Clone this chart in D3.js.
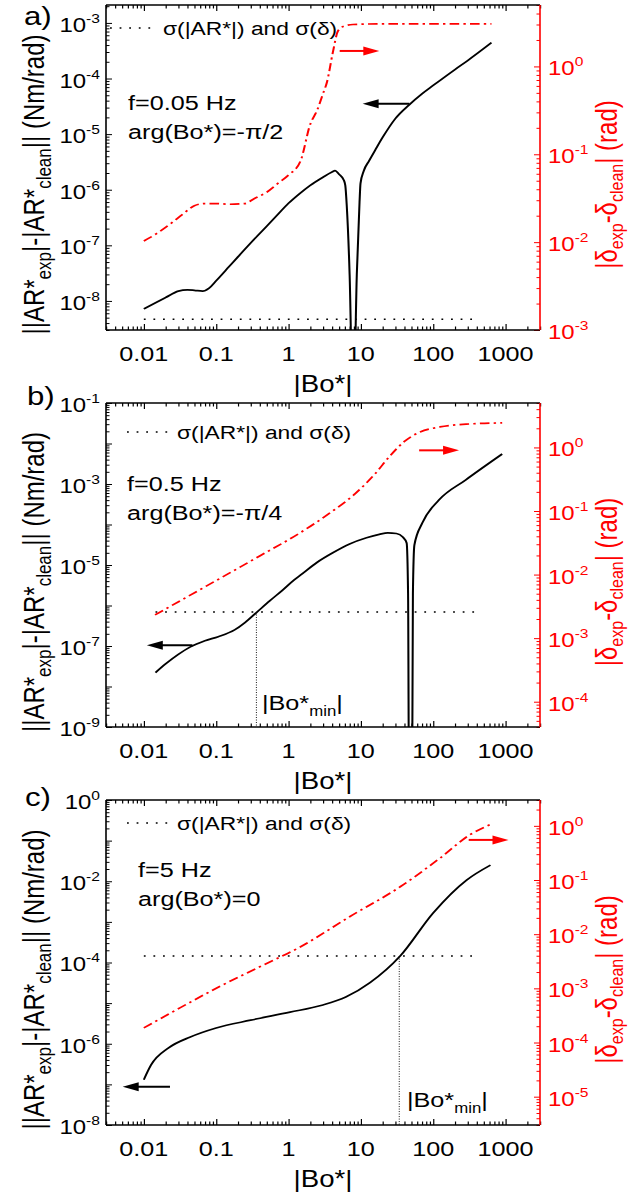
<!DOCTYPE html>
<html>
<head>
<meta charset="utf-8">
<script src="https://cdn.jsdelivr.net/npm/d3@7/dist/d3.min.js"></script>
<style>
  body { margin: 0; background: #fff; }
  svg { display: block; }
  text { font-family: "Liberation Sans", Arial, sans-serif; }
</style>
</head>
<body>
<div id="chart"></div>
<script>
// ---- data ----
const boDomain = [0.003, 3000];
const boTicks = [0.01, 0.1, 1, 10, 100, 1000];

// a) f = 0.05 Hz, arg(Bo*) = -pi/2
const aAmpBo = [0.01, 0.015, 0.02, 0.03, 0.04, 0.05, 0.065, 0.08, 0.1, 0.15, 0.2, 0.3, 0.5, 0.7, 1, 1.5, 2, 3, 4, 4.4, 5, 5.8, 6.1, 6.4, 7.0, 7.8, 7.9, 8.8, 9.6, 9.9, 11, 13, 16, 20, 30, 47, 70, 100, 200, 300, 640];
const aAmp = [7.2e-9, 9.5e-9, 1.15e-8, 1.5e-8, 1.58e-8, 1.55e-8, 1.5e-8, 1.7e-8, 2.3e-8, 4.1e-8, 6.2e-8, 1.1e-7, 2.2e-7, 3.5e-7, 5.7e-7, 9.0e-7, 1.2e-6, 1.68e-6, 2.08e-6, 2.2e-6, 1.9e-6, 1.5e-6, 1.2e-6, 5e-7, 3e-8, 1e-10, 1e-10, 3e-8, 6e-7, 1.3e-6, 2.2e-6, 3.3e-6, 5.3e-6, 8.7e-6, 1.9e-5, 3.4e-5, 5.3e-5, 7.5e-5, 1.45e-4, 2.1e-4, 4.4e-4];
const aPhaseBo = [0.01, 0.015, 0.023, 0.035, 0.05, 0.07, 0.1, 0.15, 0.25, 0.33, 0.5, 0.7, 1.0, 1.46, 2.0, 2.5, 3.0, 3.4, 4.1, 4.8, 5.7, 7.8, 20, 100, 640];
const aPhase = [0.0103, 0.0125, 0.016, 0.021, 0.026, 0.0275, 0.0275, 0.027, 0.0275, 0.031, 0.037, 0.046, 0.058, 0.083, 0.22, 0.32, 0.49, 0.66, 1.44, 2.5, 2.85, 3.0, 3.05, 3.05, 3.05];
const aSigma = 4.7e-9;
const aSigmaBo = [0.01, 440];
const aAmpExp = [-8, -7, -6, -5, -4, -3];
const aPhaseExp = [-3, -2, -1, 0];
const aText = ["f=0.05 Hz", "arg(Bo*)=-\u03c0/2"];

// b) f = 0.5 Hz, arg(Bo*) = -pi/4
const bAmpBo = [0.0145, 0.02, 0.03, 0.044, 0.07, 0.107, 0.18, 0.25, 0.36, 0.55, 0.83, 1.2, 1.46, 2.5, 4.1, 7, 12, 18, 23.6, 31, 38, 43, 45, 46.5, 51, 52.5, 55, 71, 120, 280, 900];
const bAmp = [2.2e-8, 3.6e-8, 6.2e-8, 9.5e-8, 1.35e-7, 1.7e-7, 2.5e-7, 3.8e-7, 6.7e-7, 1.3e-6, 2.4e-6, 4.3e-6, 5.6e-6, 1.17e-5, 2.0e-5, 3.3e-5, 4.7e-5, 5.7e-5, 6.2e-5, 6.0e-5, 4.9e-5, 3.5e-5, 2e-6, 1e-11, 1e-11, 2e-6, 3.1e-5, 1.1e-4, 4e-4, 1.25e-3, 5.5e-3];
const bPhaseBo = [0.0143, 0.103, 0.4, 1.44, 3.75, 8.3, 15.7, 25.3, 41, 66, 124, 320, 900];
const bPhase = [2.32e-3, 8.2e-3, 0.0196, 0.0452, 0.0933, 0.186, 0.383, 0.735, 1.27, 1.75, 2.10, 2.34, 2.43];
const bSigma = 6.9e-7;
const bSigmaBo = [0.0145, 440];
const bBoMin = 0.36;
const bAmpExp = [-9, -7, -5, -3, -1];
const bPhaseExp = [-4, -3, -2, -1, 0];
const bText = ["f=0.5 Hz", "arg(Bo*)=-\u03c0/4"];

// c) f = 5 Hz, arg(Bo*) = 0
const cAmpBo = [0.01, 0.0126, 0.022, 0.044, 0.1, 0.3, 1.05, 2.9, 6.2, 13.4, 35, 100, 290, 620];
const cAmp = [1.3e-7, 3.0e-7, 7.9e-7, 1.47e-6, 2.45e-6, 3.8e-6, 6.0e-6, 8.9e-6, 1.41e-5, 3.2e-5, 1.45e-4, 1.66e-3, 1.07e-2, 2.5e-2];
const cPhaseBo = [0.01, 0.032, 0.11, 0.4, 1.45, 7, 35, 125, 320, 620];
const cPhase = [1.86e-4, 4.4e-4, 1.07e-3, 2.5e-3, 5.8e-3, 2.1e-2, 7.5e-2, 0.255, 0.68, 1.06];
const cSigma = 1.44e-4;
const cSigmaBo = [0.01, 440];
const cBoMin = 34;
const cAmpExp = [-8, -6, -4, -2, 0];
const cPhaseExp = [-5, -4, -3, -2, -1, 0];
const cText = ["f=5 Hz", "arg(Bo*)=0"];

// arrows: [Bo from, Bo to, value, which axis]
const aArrows = [[5.1, 18, 1.5, "phase"], [47, 10.6, 3.5e-5, "amp"]];
const bArrows = [[64, 228, 0.9, "phase"], [0.047, 0.011, 1.05e-7, "amp"]];
const cArrows = [[310, 1100, 0.55, "phase"], [0.023, 0.0051, 8.7e-8, "amp"]];

// ---- layout ----
// the original figure is stretched sideways, so draw in a narrower space and stretch it
const S = 1.2;
const W = 631 / S, H = 1198;
const hx = v => v / S;
const RED = "#ff0000";
const plotLeft = 106, plotRight = 540;

const panels = [
  { tag: "a)", tagX: 24, tagY: 25, top: 5, bottom: 330,
    ampDomain: [3e-9, 2.1e-3], phaseDomain: [1e-3, 5],
    ampBo: aAmpBo, amp: aAmp, phaseBo: aPhaseBo, phase: aPhase,
    sigma: aSigma, sigmaBo: aSigmaBo, boMin: null,
    ampExp: aAmpExp, phaseExp: aPhaseExp, text: aText, textX: 128, textY: 110,
    legend: [110, 155, 163, 28], arrows: aArrows, minLabel: null },
  { tag: "b)", tagX: 27, tagY: 405, top: 403, bottom: 727,
    ampDomain: [1e-9, 1e-1], phaseDomain: [4e-5, 5],
    ampBo: bAmpBo, amp: bAmp, phaseBo: bPhaseBo, phase: bPhase,
    sigma: bSigma, sigmaBo: bSigmaBo, boMin: bBoMin,
    ampExp: bAmpExp, phaseExp: bPhaseExp, text: bText, textX: 127, textY: 491,
    legend: [127, 170, 177, 432], arrows: bArrows, minLabel: [262, 710] },
  { tag: "c)", tagX: 25, tagY: 806, top: 800, bottom: 1125,
    ampDomain: [1e-8, 1], phaseDomain: [3e-6, 3],
    ampBo: cAmpBo, amp: cAmp, phaseBo: cPhaseBo, phase: cPhase,
    sigma: cSigma, sigmaBo: cSigmaBo, boMin: cBoMin,
    ampExp: cAmpExp, phaseExp: cPhaseExp, text: cText, textX: 138, textY: 877,
    legend: [127, 170, 177, 823], arrows: cArrows, minLabel: [407, 1107] }
];

const svg = d3.select("#chart").append("svg")
  .attr("width", 631).attr("height", H)
  .attr("viewBox", `0 0 ${W} ${H}`)
  .attr("preserveAspectRatio", "none");

const x = d3.scaleLog().domain(boDomain).range([hx(plotLeft), hx(plotRight)]);

function decadeTicks(domain) {
  const major = [], minor = [];
  const lo = Math.floor(Math.log10(domain[0])), hi = Math.ceil(Math.log10(domain[1]));
  for (let e = lo; e <= hi; e++) {
    for (let m = 1; m < 10; m++) {
      const v = m * Math.pow(10, e);
      if (v < domain[0] * 0.999 || v > domain[1] * 1.001) continue;
      (m === 1 ? major : minor).push(v);
    }
  }
  return { major, minor };
}

function addTicks(g, axis, ticks, color, transform, majorLen, minorLen) {
  [[ticks.major, majorLen], [ticks.minor, minorLen]].forEach(([vals, len]) => {
    const a = g.append("g").attr("transform", transform)
      .call(axis.tickValues(vals).tickSize(-len).tickFormat(""));
    a.select(".domain").remove();
    a.selectAll(".tick line").attr("stroke", color).attr("stroke-width", 1);
  });
}

function powerLabel(g, xPos, yPos, e, anchor, color) {
  const t = g.append("text")
    .attr("x", xPos).attr("y", yPos)
    .attr("text-anchor", anchor)
    .attr("fill", color)
    .attr("font-size", 20);
  t.append("tspan").text("10");
  t.append("tspan").attr("dy", -9).attr("font-size", 13).text(e);
}

function drawPanel(p, i) {
  const g = svg.append("g");
  const yAmp = d3.scaleLog().domain(p.ampDomain).range([p.bottom, p.top]);
  const yPh = d3.scaleLog().domain(p.phaseDomain).range([p.bottom, p.top]);
  const clipId = "clip" + i;

  g.append("clipPath").attr("id", clipId).append("rect")
    .attr("x", hx(plotLeft)).attr("y", p.top)
    .attr("width", hx(plotRight - plotLeft)).attr("height", p.bottom - p.top);

  // ticks, all pointing inside the frame
  const tx = decadeTicks(boDomain);
  addTicks(g, d3.axisBottom(x), tx, "#000", `translate(0,${p.bottom})`, 6, 3.5);
  addTicks(g, d3.axisTop(x), tx, "#000", `translate(0,${p.top})`, 6, 3.5);
  addTicks(g, d3.axisLeft(yAmp), decadeTicks(p.ampDomain), "#000", `translate(${hx(plotLeft)},0)`, hx(6), hx(3.5));
  addTicks(g, d3.axisRight(yPh), decadeTicks(p.phaseDomain), RED, `translate(${hx(plotRight)},0)`, hx(6), hx(3.5));

  // frame
  g.append("line").attr("x1", hx(plotLeft)).attr("x2", hx(plotRight))
    .attr("y1", p.top).attr("y2", p.top).attr("stroke", "#000").attr("stroke-width", 1.5);
  g.append("line").attr("x1", hx(plotLeft)).attr("x2", hx(plotRight))
    .attr("y1", p.bottom).attr("y2", p.bottom).attr("stroke", "#000").attr("stroke-width", 1.5);
  g.append("line").attr("x1", hx(plotLeft)).attr("x2", hx(plotLeft))
    .attr("y1", p.top).attr("y2", p.bottom).attr("stroke", "#000").attr("stroke-width", 1.6 / S);
  g.append("line").attr("x1", hx(plotRight)).attr("x2", hx(plotRight))
    .attr("y1", p.top).attr("y2", p.bottom).attr("stroke", RED).attr("stroke-width", 1.6 / S);

  // tick labels
  boTicks.forEach(v => {
    g.append("text").attr("x", x(v)).attr("y", p.bottom + 31)
      .attr("text-anchor", "middle").attr("font-size", 21).text(v);
  });
  p.ampExp.forEach(e => powerLabel(g, hx(100), yAmp(Math.pow(10, e)) + 9, e, "end", "#000"));
  p.phaseExp.forEach(e => powerLabel(g, hx(548), yPh(Math.pow(10, e)) + 9, e, "start", RED));

  // axis titles
  g.append("text").attr("x", hx(323)).attr("y", p.bottom + 62)
    .attr("text-anchor", "middle").attr("font-size", 23).text("|Bo*|");

  const cy = (p.top + p.bottom) / 2 + 17;
  const lt = g.append("text").attr("transform", `translate(${hx(44)},${cy}) rotate(-90)`)
    .attr("text-anchor", "middle").attr("font-size", 24);
  lt.append("tspan").text("||AR*");
  lt.append("tspan").attr("dy", 6).attr("font-size", 17).text("exp");
  lt.append("tspan").attr("dy", -6).text("|-|AR*");
  lt.append("tspan").attr("dy", 6).attr("font-size", 17).text("clean");
  lt.append("tspan").attr("dy", -6).text("|| (Nm/rad)");

  const rt = g.append("text").attr("transform", `translate(${hx(617)},${cy}) rotate(-90)`)
    .attr("text-anchor", "middle").attr("font-size", 24).attr("fill", RED);
  rt.append("tspan").text("|\u03b4");
  rt.append("tspan").attr("dy", 5).attr("font-size", 16).text("exp");
  rt.append("tspan").attr("dy", -5).text("-\u03b4");
  rt.append("tspan").attr("dy", 5).attr("font-size", 16).text("clean");
  rt.append("tspan").attr("dy", -5).text("| (rad)");

  g.append("text").attr("x", hx(p.tagX)).attr("y", p.tagY)
    .attr("font-size", 26).text(p.tag);

  // legend entry
  const [lx0, lx1, ltx, ly] = p.legend;
  g.append("line").attr("x1", hx(lx0)).attr("x2", hx(lx1)).attr("y1", ly).attr("y2", ly)
    .attr("stroke", "#000").attr("stroke-width", 1.5).attr("stroke-dasharray", "1.5,6.5");
  g.append("text").attr("x", hx(ltx)).attr("y", ly + 7)
    .attr("font-size", 19).text("\u03c3(|AR*|) and \u03c3(\u03b4)");

  // f and arg(Bo*)
  p.text.forEach((s, k) => {
    g.append("text").attr("x", hx(p.textX)).attr("y", p.textY + k * 29)
      .attr("font-size", 21).text(s);
  });

  const plot = g.append("g").attr("clip-path", `url(#${clipId})`);

  // sigma level
  plot.append("path")
    .attr("d", d3.line()(p.sigmaBo.map(b => [x(b), yAmp(p.sigma)])))
    .attr("stroke", "#000").attr("stroke-width", 1.5).attr("fill", "none")
    .attr("stroke-dasharray", "1.5,6.5");

  if (p.boMin) {
    plot.append("line")
      .attr("x1", x(p.boMin)).attr("x2", x(p.boMin))
      .attr("y1", yAmp(p.sigma)).attr("y2", p.bottom)
      .attr("stroke", "#000").attr("stroke-width", 1 / S).attr("stroke-dasharray", "1,1.5");
    const [mx, my] = p.minLabel;
    const mt = g.append("text").attr("x", hx(mx)).attr("y", my).attr("font-size", 21);
    mt.append("tspan").text("|Bo*");
    mt.append("tspan").attr("dy", 6).attr("font-size", 14).text("min");
    mt.append("tspan").attr("dy", -6).text("|");
  }

  const line = d3.line().curve(d3.curveMonotoneX);
  plot.append("path")
    .attr("d", line(p.phaseBo.map((b, k) => [x(b), yPh(p.phase[k])])))
    .attr("fill", "none").attr("stroke", RED).attr("stroke-width", 1.7)
    .attr("stroke-dasharray", "8,3.5,2,3.5");
  plot.append("path")
    .attr("d", line(p.ampBo.map((b, k) => [x(b), yAmp(p.amp[k])])))
    .attr("fill", "none").attr("stroke", "#000").attr("stroke-width", 1.7);

  // arrows telling which axis each curve belongs to
  p.arrows.forEach(([b0, b1, v, axis]) => {
    const y = axis === "phase" ? yPh(v) : yAmp(v);
    const col = axis === "phase" ? RED : "#000";
    const x0 = x(b0), x1 = x(b1);
    const dir = Math.sign(x1 - x0), head = hx(16);
    g.append("line").attr("x1", x0).attr("x2", x1 - dir * head * 0.8)
      .attr("y1", y).attr("y2", y).attr("stroke", col).attr("stroke-width", 2);
    g.append("path")
      .attr("d", `M${x1},${y}L${x1 - dir * head},${y - 4.5}L${x1 - dir * head},${y + 4.5}Z`)
      .attr("fill", col);
  });
}

panels.forEach(drawPanel);
</script>
</body>
</html>
